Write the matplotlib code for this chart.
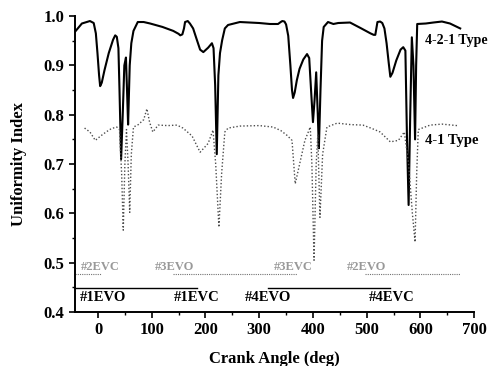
import numpy as np
import matplotlib.pyplot as plt
from matplotlib.ticker import MultipleLocator

# 4-2-1 type exhaust (solid)
x_421 = [-43, -30, -15, -8, -4, -1, 2, 4, 7, 12, 20, 28, 32, 35, 38, 40, 43, 46, 49, 52,
         54, 56, 59, 62, 66, 74, 85, 97, 120, 140, 150, 153, 157, 160, 162, 167, 171, 177,
         183, 190, 196, 205, 212, 215, 218, 221, 224, 227, 231, 236, 242, 264, 300, 320,
         335, 340, 343, 347, 350, 354, 358, 361, 363, 366, 370, 375, 382, 389, 393, 397,
         400, 403, 406, 409, 411, 414, 417, 420, 428, 438, 447, 469, 490, 507, 513, 516,
         518, 520, 525, 529, 533, 537, 541, 544, 548, 555, 563, 568, 572, 575, 578, 581,
         584, 587, 590, 592, 594, 610, 624, 640, 655, 674]
y_421 = [0.968, 0.985, 0.990, 0.986, 0.965, 0.925, 0.880, 0.858, 0.865, 0.890, 0.925, 0.952,
         0.961, 0.958, 0.935, 0.850, 0.710, 0.800, 0.900, 0.916, 0.850, 0.780, 0.900, 0.945,
         0.970, 0.988, 0.988, 0.985, 0.978, 0.970, 0.964, 0.961, 0.963, 0.975, 0.988, 0.990,
         0.985, 0.975, 0.955, 0.932, 0.927, 0.936, 0.945, 0.935, 0.860, 0.720, 0.880, 0.925,
         0.951, 0.975, 0.982, 0.988, 0.986, 0.984, 0.984, 0.988, 0.990, 0.989, 0.983, 0.960,
         0.900, 0.850, 0.834, 0.845, 0.870, 0.893, 0.912, 0.923, 0.915, 0.840, 0.785, 0.830,
         0.886, 0.800, 0.732, 0.850, 0.950, 0.978, 0.988, 0.984, 0.986, 0.987, 0.975, 0.965,
         0.962, 0.962, 0.975, 0.988, 0.989, 0.986, 0.975, 0.945, 0.905, 0.877, 0.885, 0.910,
         0.932, 0.937, 0.930, 0.750, 0.617, 0.800, 0.957, 0.900, 0.750, 0.900, 0.984, 0.985,
         0.987, 0.989, 0.985, 0.975]

# 4-1 type exhaust (dotted)
x_41 = [-25, -15, -5, 5, 15, 25, 35, 40, 44, 47, 50, 53, 56, 59, 62, 66, 75, 85, 91, 96,
        102, 112, 130, 147, 158, 175, 190, 205, 214, 219, 225, 230, 236, 242, 264, 300, 326,
        340, 352, 361, 367, 376, 385, 395, 398, 402, 406, 409, 413, 418, 426, 445, 470, 493,
        510, 525, 544, 559, 570, 578, 585, 590, 593, 596, 618, 640, 668]
y_41 = [0.773, 0.765, 0.748, 0.757, 0.765, 0.772, 0.775, 0.770, 0.680, 0.566, 0.700, 0.770,
        0.700, 0.602, 0.720, 0.775, 0.780, 0.790, 0.812, 0.785, 0.765, 0.779, 0.778, 0.779,
        0.773, 0.757, 0.724, 0.742, 0.769, 0.700, 0.572, 0.680, 0.765, 0.773, 0.777, 0.778,
        0.775, 0.768, 0.758, 0.748, 0.660, 0.704, 0.748, 0.775, 0.700, 0.505, 0.700, 0.760,
        0.592, 0.720, 0.775, 0.783, 0.780, 0.779, 0.772, 0.765, 0.745, 0.748, 0.765, 0.700,
        0.600, 0.542, 0.680, 0.770, 0.779, 0.781, 0.778]

# valve event markers
gray_labels = ['#2EVC', '#3EVO', '#3EVC', '#2EVO']
gray_label_x = [4, 143, 363, 499]
gray_spans = [(-43, 5), (140, 370), (497, 674)]
black_labels = ['#1EVO', '#1EVC', '#4EVO', '#4EVC']
black_label_x = [9, 184, 317, 546]
black_spans = [(-43, 185), (317, 544)]

plt.rcParams['font.family'] = ['Liberation Serif', 'DejaVu Serif']
plt.rcParams['font.weight'] = 'bold'

fig = plt.figure(figsize=(4.96, 3.66), dpi=100)
ax = fig.add_axes([0.151, 0.1475, 0.805, 0.8085])

ax.plot(x_421, y_421, color='black', lw=1.5)
ax.plot(x_41, y_41, color='0.3', lw=1.0, ls=(0, (1, 1.5)))

for (a, b) in gray_spans:
    ax.plot([a, b], [0.477, 0.477], color='0.45', lw=0.8, ls=(0, (1, 1)))
for lab, xv in zip(gray_labels, gray_label_x):
    ax.text(xv, 0.492, lab, color='0.6', fontsize=9, ha='center', va='center')
for (a, b) in black_spans:
    ax.plot([a, b], [0.449, 0.449], color='black', lw=1.0)
for lab, xv in zip(black_labels, black_label_x):
    ax.text(xv, 0.43, lab, color='black', fontsize=10.5, fontweight='bold',
            ha='center', va='center')

ax.text(609, 0.951, '4-2-1 Type', fontsize=10, fontweight='bold', va='center')
ax.text(609, 0.748, '4-1 Type', fontsize=10.5, fontweight='bold', va='center')

ax.set_xlim(-43, 700)
ax.set_ylim(0.4, 1.0)
ax.xaxis.set_major_locator(MultipleLocator(100))
ax.xaxis.set_minor_locator(MultipleLocator(50))
ax.yaxis.set_major_locator(MultipleLocator(0.1))
ax.yaxis.set_minor_locator(MultipleLocator(0.05))
ax.tick_params(which='major', direction='out', length=4, width=1.2, labelsize=12)
ax.tick_params(which='minor', direction='out', length=2.5, width=1)
for lbl in ax.get_xticklabels() + ax.get_yticklabels():
    lbl.set_fontweight('bold')
ax.yaxis.set_major_formatter(plt.FormatStrFormatter('%.1f'))

ax.spines['top'].set_visible(False)
ax.spines['right'].set_visible(False)
ax.spines['left'].set_linewidth(1.4)
ax.spines['bottom'].set_linewidth(1.4)

ax.set_xlabel('Crank Angle (deg)', fontsize=12, fontweight='bold', labelpad=9)
ax.set_ylabel('Uniformity Index', fontsize=12, fontweight='bold', labelpad=12)

fig.savefig('out.png', dpi=100)
